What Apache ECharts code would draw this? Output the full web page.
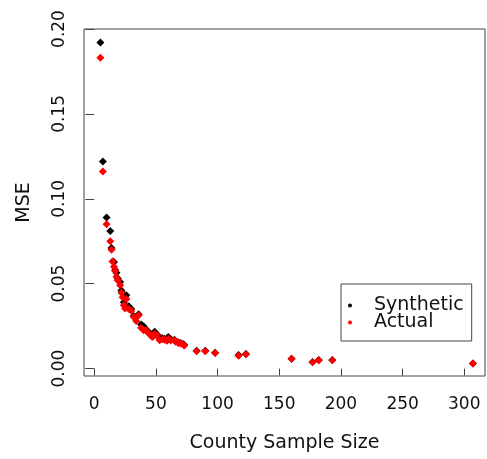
<!DOCTYPE html>
<html>
<head>
<meta charset="utf-8">
<script src="https://cdn.jsdelivr.net/npm/echarts@6/dist/echarts.min.js"></script>
<style>
html,body{margin:0;padding:0;background:#fff;}
#chart{width:487px;height:459px;}
</style>
</head>
<body>
<div id="chart"></div>
<script>
// County sample sizes
var sampleSize = [5, 7, 10, 13, 14, 15, 16, 17, 18, 19, 21, 22, 23, 24, 25, 26, 28, 30, 32, 34, 36, 38, 40, 42, 43, 45, 47, 48, 49, 51, 53, 55, 57, 59, 60, 62, 65, 66, 68, 70, 72, 73, 83, 90, 98, 117, 123, 160, 177, 182, 193, 307];
// MSE for synthetic data (black)
var mseSynthetic = [0.192, 0.122, 0.089, 0.081, 0.071, 0.063, 0.0628, 0.058, 0.0564, 0.053, 0.051, 0.046, 0.0442, 0.039, 0.0372, 0.0432, 0.0367, 0.035, 0.031, 0.030, 0.032, 0.026, 0.0249, 0.023, 0.0222, 0.021, 0.0195, 0.0205, 0.0216, 0.020, 0.0178, 0.018, 0.0175, 0.017, 0.0186, 0.0172, 0.017, 0.016, 0.0155, 0.015, 0.0145, 0.0138, 0.0105, 0.0104, 0.0093, 0.0079, 0.0085, 0.0058, 0.0038, 0.005, 0.005, 0.003];
// MSE for actual data (red)
var mseActual = [0.183, 0.116, 0.085, 0.075, 0.070, 0.063, 0.060, 0.0575, 0.054, 0.052, 0.049, 0.0446, 0.042, 0.0373, 0.0354, 0.041, 0.035, 0.034, 0.0304, 0.028, 0.0314, 0.024, 0.0226, 0.0225, 0.0216, 0.020, 0.0186, 0.019, 0.0205, 0.0196, 0.0167, 0.0172, 0.017, 0.0163, 0.0175, 0.0165, 0.0167, 0.0158, 0.0151, 0.0148, 0.0141, 0.0135, 0.0102, 0.0102, 0.0092, 0.0075, 0.0084, 0.0057, 0.0037, 0.0049, 0.0049, 0.0029];
// Tick values
var xTicks = [0, 50, 100, 150, 200, 250, 300];
var yTicks = [0.00, 0.05, 0.10, 0.15, 0.20];
var seriesNames = ['Synthetic', 'Actual'];

function pairs(xs, ys) { return xs.map(function (x, i) { return [x, ys[i]]; }); }

var FONT = 'DejaVu Sans';
var chart = echarts.init(document.getElementById('chart'), null, {renderer: 'canvas'});
chart.setOption({
  animation: false,
  backgroundColor: '#ffffff',
  grid: {left: 84, right: 2, top: 29, bottom: 83, show: true, borderColor: '#444', borderWidth: 1, containLabel: false},
  xAxis: {
    type: 'value', min: -8.3, max: 316.8,
    name: 'County Sample Size', nameLocation: 'middle', nameGap: 58,
    nameTextStyle: {fontFamily: FONT, fontSize: 19, color: '#111'},
    axisLine: {show: false},
    splitLine: {show: false},
    axisTick: {show: true, inside: false, length: 7, customValues: xTicks, lineStyle: {color: '#444'}},
    axisLabel: {customValues: xTicks, margin: 20, fontFamily: FONT, fontSize: 17, color: '#111'}
  },
  yAxis: {
    type: 'value', min: -0.0044, max: 0.2,
    name: 'MSE', nameLocation: 'middle', nameGap: 50,
    nameTextStyle: {fontFamily: FONT, fontSize: 19, color: '#111'},
    axisLine: {show: false},
    splitLine: {show: false},
    axisTick: {show: true, inside: false, length: 9, customValues: yTicks, lineStyle: {color: '#444'}},
    axisLabel: {customValues: yTicks, rotate: 90, margin: 16, fontFamily: FONT, fontSize: 17, color: '#111',
      formatter: function (v) { return v.toFixed(2); }}
  },
  legend: {
    orient: 'vertical', left: 341, top: 284,
    padding: [12, 8, 9, 7], itemGap: -2,
    itemWidth: 12, itemHeight: 4,
    borderColor: '#444', borderWidth: 1,
    textStyle: {fontFamily: FONT, fontSize: 19, color: '#111', lineHeight: 18, padding: [0, 0, 0, 13]},
    data: [{name: seriesNames[0], icon: 'circle'}, {name: seriesNames[1], icon: 'circle'}]
  },
  series: [
    {name: seriesNames[0], type: 'scatter', symbol: 'diamond', symbolSize: 8,
     itemStyle: {color: '#000000', opacity: 1}, data: pairs(sampleSize, mseSynthetic)},
    {name: seriesNames[1], type: 'scatter', symbol: 'diamond', symbolSize: 8,
     itemStyle: {color: '#ff0000', opacity: 1}, data: pairs(sampleSize, mseActual)}
  ]
});
</script>
</body>
</html>
